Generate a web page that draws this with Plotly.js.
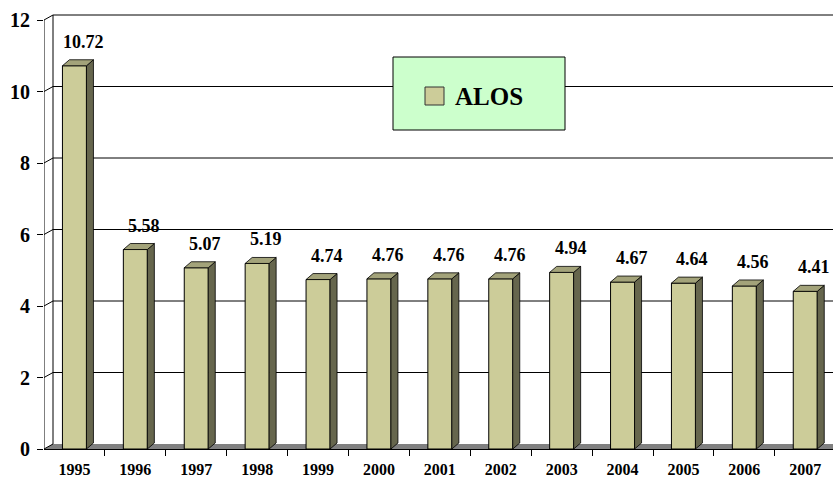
<!DOCTYPE html>
<html>
<head>
<meta charset="utf-8">
<script src="https://cdn.plot.ly/plotly-3.0.1.min.js"></script>
<style>html,body{margin:0;padding:0;background:#fff;}#chart{width:833px;height:477px;}</style>
</head>
<body>
<div id="chart"></div>
<script>
// ---- data ----
const years = ['1995','1996','1997','1998','1999','2000','2001','2002','2003','2004','2005','2006','2007'];
const alos = [10.72, 5.58, 5.07, 5.19, 4.74, 4.76, 4.76, 4.76, 4.94, 4.67, 4.64, 4.56, 4.41];
const seriesName = 'ALOS';
const yTicks = [0, 2, 4, 6, 8, 10, 12];

// ---- geometry / style ----
const W = 833, H = 477;
const M = {l: 44, r: 0, t: 12, b: 28};
const pxPerX = 60.9, pxPerY = 35.75;
const plotW = W - M.l - M.r, plotH = H - M.t - M.b;
const xMin = -0.5, xMax = xMin + plotW / pxPerX;
const yMax = plotH / pxPerY;
const barHalf = 12 / pxPerX;
const bdx = 7 / pxPerX, bdy = 6 / pxPerY;     // bar depth
const wdx = 9 / pxPerX, wdy = 5 / pxPerY;     // wall depth
const FONT = 'Liberation Serif, Times New Roman, serif';

const idx = years.map((_, i) => i);

// side and top faces built from the data
const sideX = [], sideY = [], topX = [], topY = [];
idx.forEach(i => {
  const v = alos[i];
  const r = i + barHalf, l = i - barHalf;
  sideX.push(r, r + bdx, r + bdx, r, r, null);
  sideY.push(0, bdy, v + bdy, v, 0, null);
  topX.push(l, l + bdx, r + bdx, r, l, null);
  topY.push(v, v + bdy, v + bdy, v, v, null);
});

const traces = [
  {type: 'bar', x: idx, y: alos, name: seriesName, width: 2 * barHalf,
   marker: {color: '#CCCC99', line: {color: '#000', width: 1}},
   hoverinfo: 'x+y', showlegend: false},
  {type: 'scatter', x: sideX, y: sideY, mode: 'lines', fill: 'toself',
   fillcolor: '#66664D', line: {color: '#000', width: 0.8},
   hoverinfo: 'skip', showlegend: false},
  {type: 'scatter', x: topX, y: topY, mode: 'lines', fill: 'toself',
   fillcolor: '#A3A37A', line: {color: '#000', width: 0.8},
   hoverinfo: 'skip', showlegend: false}
];

// walls and grid
let grid = '';
yTicks.forEach(v => {
  if (v === 0) return;
  grid += `M${xMin},${v} L${xMin + wdx},${v + wdy} L${xMax + 1},${v + wdy} `;
});
const shapes = [
  {type: 'path', xref: 'x', yref: 'y', layer: 'below',
   path: `M${xMin},0 L${xMin + wdx},${wdy} L${xMax + 1},${wdy} L${xMax + 1},0 Z`,
   fillcolor: '#808080', line: {width: 0}},
  {type: 'path', xref: 'x', yref: 'y', layer: 'below', path: grid,
   line: {color: '#000', width: 1}},
  {type: 'line', xref: 'x', yref: 'y', layer: 'below',
   x0: xMin + wdx, x1: xMin + wdx, y0: wdy, y1: yTicks[yTicks.length - 1] + wdy,
   line: {color: '#000', width: 1}},
  {type: 'line', xref: 'x', yref: 'y', layer: 'below',
   x0: xMin, x1: xMin, y0: 0, y1: yTicks[yTicks.length - 1],
   line: {color: '#000', width: 1}},
  {type: 'line', xref: 'x', yref: 'y', layer: 'below',
   x0: xMin, x1: xMin + wdx, y0: 0, y1: wdy,
   line: {color: '#000', width: 1}}
];

// legend box (pixel -> paper helpers)
const px2pX = p => (p - M.l) / plotW;
const px2pY = p => 1 - (p - M.t) / plotH;
shapes.push(
  {type: 'rect', xref: 'paper', yref: 'paper', layer: 'above',
   x0: px2pX(393), x1: px2pX(565), y0: px2pY(130), y1: px2pY(57),
   fillcolor: '#CCFFCC', line: {color: '#000', width: 1}},
  {type: 'rect', xref: 'paper', yref: 'paper', layer: 'above',
   x0: px2pX(425), x1: px2pX(444), y0: px2pY(105), y1: px2pY(87),
   fillcolor: '#CCCC99', line: {color: '#333', width: 1}}
);

const annotations = idx.map(i => ({
  x: i + 9 / pxPerX, y: alos[i], xref: 'x', yref: 'y',
  text: alos[i].toFixed(2), showarrow: false, yanchor: 'middle', yshift: 24,
  font: {family: FONT, size: 18, color: '#000', weight: 'bold'}
}));
annotations.push({
  x: px2pX(489), y: px2pY(96), xref: 'paper', yref: 'paper',
  text: seriesName, showarrow: false, xanchor: 'center', yanchor: 'middle',
  font: {family: FONT, size: 25, color: '#000', weight: 'bold'}
});

const layout = {
  width: W, height: H,
  margin: M,
  paper_bgcolor: '#fff', plot_bgcolor: '#fff',
  showlegend: false,
  bargap: 0,
  xaxis: {
    range: [xMin, xMax], tickmode: 'array', tickvals: idx, ticktext: years,
    ticks: 'outside', ticklen: 6, tickcolor: 'rgba(0,0,0,0)', ticklabelstandoff: 0,
    minor: {tickmode: 'array', tickvals: idx.map(i => i + 0.5), ticks: 'outside',
            ticklen: 6, tickcolor: '#000', tickwidth: 1, showgrid: false},
    showgrid: false, zeroline: false, showline: true, linecolor: '#000', linewidth: 1,
    tickfont: {family: FONT, size: 16, color: '#000', weight: 'bold'},
    fixedrange: true
  },
  yaxis: {
    range: [0, yMax], tickmode: 'array', tickvals: yTicks,
    ticks: 'outside', ticklen: 6, tickcolor: '#000', ticklabelstandoff: 3,
    showgrid: false, zeroline: false, showline: false,
    tickfont: {family: FONT, size: 20, color: '#000', weight: 'bold'},
    fixedrange: true
  },
  shapes: shapes,
  annotations: annotations
};

Plotly.newPlot('chart', traces, layout, {displayModeBar: false, staticPlot: true});
</script>
</body>
</html>
